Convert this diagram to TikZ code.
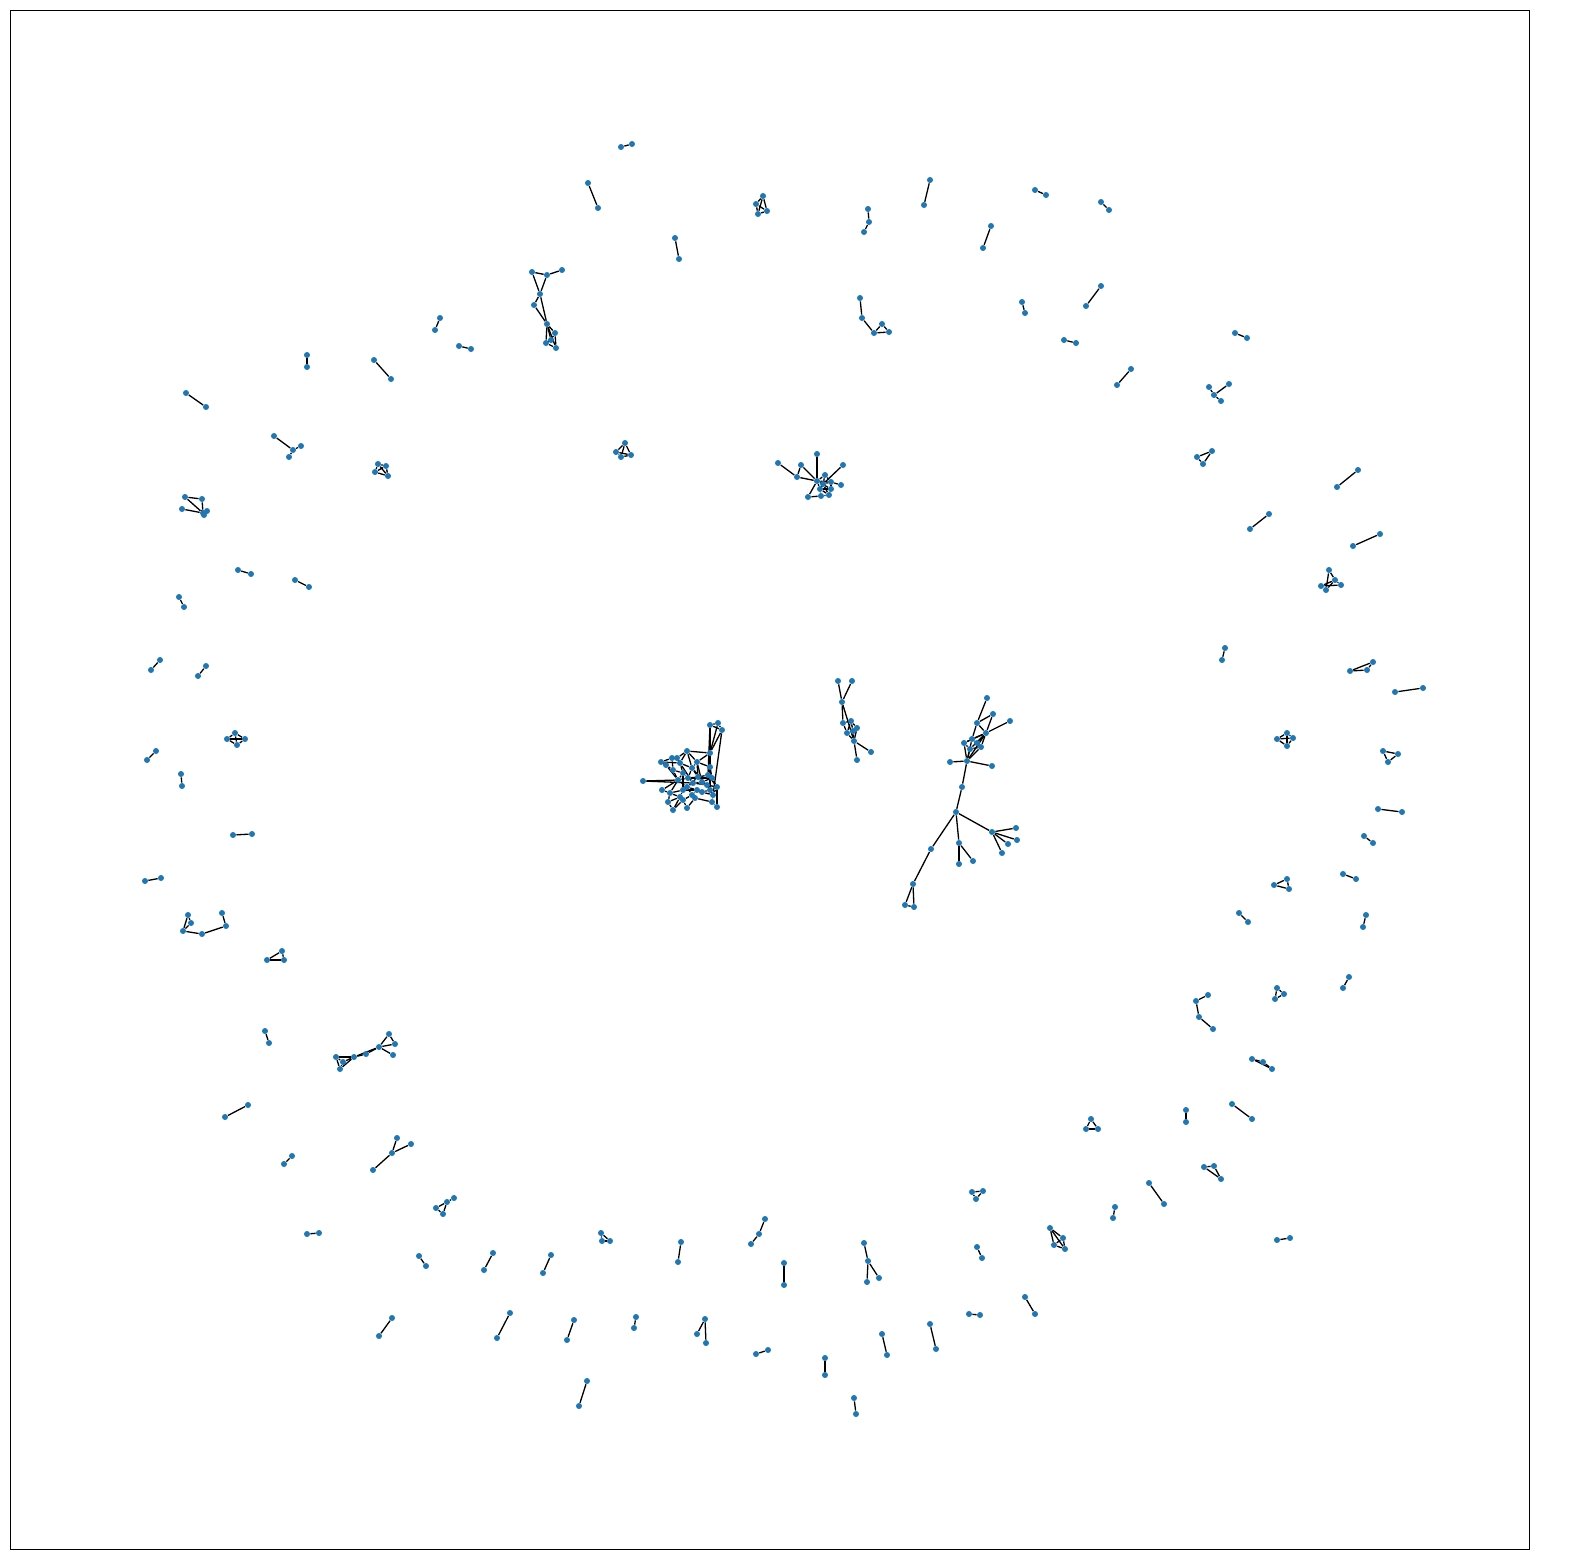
\documentclass[tikz,border=0pt]{standalone}
\definecolor{nodeblue}{RGB}{31,119,180}
\pgfdeclarelayer{background}
\pgfsetlayers{background,main}
\tikzset{v/.style={circle,fill=nodeblue,draw=none,inner sep=0pt,minimum size=3pt},
 e/.style={draw=black,line width=0.65pt}}
\begin{document}
\begin{tikzpicture}[x=0.5pt,y=-0.5pt]
\useasboundingbox (0,0) rectangle (1570,1560);
\draw[line width=0.5pt] (10,10) rectangle (1529,1549);
% nodes
\foreach \n/\x/\y in {
c1/710/725,c2/718/723,c3/722/730,c4/710/753,c5/687/751,c6/661/762,c7/672/758,c8/677/758,c9/666/765,c10/680/763,
c11/673/770,c12/697/762,c13/710/767,c14/692/768,c15/683/773,c16/643/781,c17/678/780,c18/688/778,c19/698/777,c20/702/782,
c21/708/775,c22/712/778,c23/693/783,c24/687/787,c25/707/785,c26/717/787,c27/662/790,c28/670/793,c29/683/790,c30/697/790,
c31/702/792,c32/710/790,c33/713/795,c34/680/797,c35/692/795,c36/668/802,c37/683/800,c38/695/798,c39/712/802,c40/673/810,
c41/687/808,c42/717/807,
t1/987/698,t2/993/714,t3/977/723,t4/1010/721,t5/986/733,t6/972/739,t7/977/743,t8/964/743,t9/970/749,t10/981/747,
t11/967/761,t12/950/762,t13/992/766,t14/962/787,t15/956/812,t16/992/832,t17/1016/828,t18/1017/840,t19/1008/844,t20/1002/853,
t21/959/843,t22/973/861,t23/959/864,t24/931/849,t25/913/884,t26/905/905,t27/914/907,
u1/778/463,u2/801/465,u3/817/454,u4/843/465,u5/797/477,u6/817/481,u7/825/475,u8/823/484,u9/831/482,u10/841/485,
u11/820/489,u12/831/489,u13/808/497,u14/821/496,u15/829/495,
w1/838/681,w2/852/681,w3/842/702,w4/843/723,w5/851/721,w6/847/733,w7/857/728,w8/853/731,w9/854/741,w10/871/752,w11/857/760,
p1/532/272,p2/547/275,p3/562/270,p4/540/294,p5/534/305,p6/547/324,p7/555/333,p8/551/340,p9/546/343,p10/556/348,
q1/389/1034,q2/395/1044,q3/379/1047,q4/393/1055,q5/366/1054,q6/354/1057,q7/336/1057,q8/343/1062,q9/340/1069,
r1/185/497,r2/202/499,r3/182/509,r4/203/513,r5/207/511,r6/204/515,
s1/188/915,s2/191/923,s3/183/931,s4/202/934,s5/226/926,s6/222/913,
x1/397/1138,x2/411/1144,x3/392/1153,x4/373/1170,
y1/1050/1228,y2/1063/1238,y3/1054/1245,y4/1065/1249,
z1/864/1243,z2/868/1261,z3/867/1282,z4/879/1278,
k1/1229/384,k2/1209/387,k3/1214/395,k4/1221/401,
m1/1212/451,m2/1197/457,m3/1203/464,
ga/868/209,gb/869/222,gc/864/232,
ha/860/298,hb/862/318,hc/874/333,hd/882/324,he/889/332,
na/274/436,nb/293/450,nc/301/446,nd/289/457,
aa/763/196,ab/756/204,ac/767/211,ad/758/214,
ba/625/443,bb/616/452,bc/631/455,bd/621/457,
da/378/464,db/386/466,dc/375/472,dd/388/476,
ea/235/733,eb/227/739,ec/245/739,ed/237/745,
fa/1287/733,fb/1277/739,fc/1293/738,fd/1287/746,
ia/1383/751,ib/1398/754,ic/1388/762,
ja/1287/879,jb/1274/885,jc/1289/889,
la/267/960,lb/282/951,lc/284/960,
oa/1277/988,ob/1275/999,oc/1284/994,
ra/1091/1119,rb/1086/1129,rc/1098/1129,
sa/972/1192,sb/983/1191,sc/976/1199,
ta/601/1233,tb/610/1241,tc/602/1241,
ua/1204/1167,ub/1214/1166,uc/1221/1179,
va/1252/1059,vb/1263/1062,vc/1272/1069,
wa/1208/995,wb/1196/1001,wc/1199/1017,wd/1213/1029,
xa/765/1219,xb/759/1234,xc/751/1244,
ya/705/1319,yb/697/1334,yc/706/1343,
za/454/1198,zb/447/1202,zc/436/1208,zd/443/1214,
qa/1329/570,qb/1335/580,qc/1321/586,qd/1341/585,qe/1326/590,
pa/1373/662,pb/1350/671,pc/1367/670}
  \node[v] (\n) at (\x,\y) {};
% simple pairs
\foreach \i/\xa/\ya/\xb/\yb in {
1/621/147/632/144,2/588/183/598/208,3/675/238/679/259,4/930/180/924/205,5/1035/190/1046/195,
6/1101/202/1109/210,7/991/226/983/248,8/1022/302/1025/313,9/1101/286/1086/306,10/1064/340/1076/343,
11/1131/369/1117/385,12/1235/333/1247/338,13/435/330/440/318,14/459/346/471/349,15/307/355/307/367,
16/374/360/391/379,17/186/393/206/407,18/1358/470/1337/487,19/1269/514/1250/529,20/1380/534/1353/546,
21/238/570/251/574,22/295/580/309/587,23/179/597/184/607,24/160/660/151/670,25/206/666/198/676,
26/1225/648/1222/660,27/1395/692/1423/688,28/156/751/147/760,29/181/774/182/786,30/233/835/252/834,
31/1378/809/1402/812,32/145/881/161/878,33/1364/836/1373/843,34/1343/874/1356/879,35/1239/913/1248/922,
36/1366/915/1363/927,37/1349/977/1343/988,38/265/1031/269/1043,39/248/1105/225/1117,40/1232/1104/1252/1119,
41/1186/1110/1186/1122,42/292/1156/284/1164,43/1149/1183/1164/1204,44/1115/1207/1113/1218,45/307/1234/319/1233,
46/681/1242/678/1262,47/977/1247/982/1258,48/419/1256/426/1266,49/493/1253/484/1270,50/551/1255/543/1273,
51/784/1263/784/1285,52/1277/1240/1290/1238,53/1025/1297/1035/1314,54/969/1314/980/1315,55/392/1318/379/1336,
56/510/1313/497/1338,57/574/1320/567/1340,58/636/1317/634/1328,59/930/1324/936/1349,60/882/1334/887/1355,
61/756/1354/768/1350,62/825/1358/825/1375,63/587/1381/579/1406,64/854/1398/856/1414}
{
  \node[v] (d\i-a) at (\xa,\ya) {};
  \node[v] (d\i-b) at (\xb,\yb) {};
  \begin{pgfonlayer}{background}
  \draw[e] (d\i-a) -- (d\i-b);
  \end{pgfonlayer}
}
\begin{pgfonlayer}{background}
\foreach \a/\b in {
c1/c2,c2/c3,c1/c3,c1/c4,c2/c4,c3/c4,c3/c33,c1/c21,c4/c5,c4/c13,c4/c12,c4/c21,c4/c32,c5/c8,c5/c10,c5/c12,c5/c14,
c6/c7,c6/c9,c6/c10,c7/c8,c7/c11,c8/c10,c9/c11,c9/c17,c10/c14,c10/c15,c11/c15,c11/c17,c12/c14,c12/c19,c12/c13,
c13/c21,c13/c22,c14/c18,c14/c19,c15/c17,c15/c18,c16/c23,c16/c17,c17/c18,c17/c24,c17/c28,c18/c19,c18/c23,c19/c20,
c19/c21,c20/c22,c20/c25,c20/c23,c21/c22,c22/c26,c23/c24,c23/c25,c24/c29,c24/c30,c25/c26,c25/c32,c26/c33,c26/c42,
c27/c28,c27/c17,c28/c29,c28/c34,c28/c36,c29/c30,c29/c34,c30/c31,c30/c35,c31/c32,c31/c33,c32/c33,c33/c39,c34/c37,
c34/c40,c35/c38,c35/c37,c36/c40,c37/c41,c38/c41,c38/c39,c39/c42,c10/c23,c18/c22,c19/c24,c12/c20,c14/c25,c21/c26,
c15/c29,c37/c40,c36/c34,c24/c35,
t1/t3,t3/t2,t3/t5,t2/t5,t5/t4,t3/t6,t5/t6,t5/t7,t5/t8,t5/t10,t5/t9,t6/t7,t6/t8,t8/t9,t7/t10,t10/t9,t8/t11,t6/t11,
t10/t11,t5/t11,t9/t11,t11/t12,t11/t13,t11/t14,t14/t15,t15/t16,t16/t17,t16/t18,t16/t19,t16/t20,t15/t21,t21/t22,
t21/t23,t15/t24,t24/t25,t25/t26,t25/t27,t26/t27,
u1/u5,u2/u5,u2/u6,u5/u6,u3/u6,u4/u8,u6/u7,u6/u8,u6/u9,u6/u11,u6/u13,u6/u12,u7/u8,u7/u9,u8/u9,u8/u11,u9/u10,
u9/u12,u11/u12,u11/u14,u12/u15,u14/u15,u13/u14,u8/u15,u11/u15,
w1/w3,w2/w3,w3/w4,w3/w9,w4/w5,w4/w6,w5/w7,w5/w8,w6/w9,w7/w9,w8/w9,w6/w7,w5/w6,w9/w10,w9/w11,
p1/p2,p2/p3,p1/p4,p2/p4,p4/p5,p4/p6,p5/p6,p6/p7,p6/p8,p6/p9,p6/p10,p7/p8,p8/p9,p9/p10,p7/p10,
q1/q2,q1/q3,q2/q3,q3/q4,q3/q5,q3/q6,q5/q6,q6/q7,q6/q8,q6/q9,q7/q8,q7/q9,q8/q9,
r1/r2,r1/r4,r2/r4,r3/r4,r4/r5,r4/r6,r5/r6,
s1/s2,s1/s3,s2/s3,s3/s4,s4/s5,s5/s6,
x1/x3,x2/x3,x3/x4,
y1/y2,y1/y3,y1/y4,y2/y3,y2/y4,y3/y4,
z1/z2,z2/z3,z2/z4,
k1/k3,k2/k3,k3/k4,
m1/m2,m2/m3,m1/m3,
ga/gb,gb/gc,
ha/hb,hb/hc,hc/hd,hd/he,hc/he,
na/nb,nb/nc,nb/nd,
aa/ab,aa/ac,aa/ad,ab/ac,ab/ad,ac/ad,
ba/bb,ba/bc,ba/bd,bb/bc,bb/bd,bc/bd,
da/db,da/dc,da/dd,db/dc,db/dd,dc/dd,
ea/eb,ea/ec,ea/ed,eb/ec,eb/ed,ec/ed,
fa/fb,fa/fc,fa/fd,fb/fc,fb/fd,fc/fd,
ia/ib,ib/ic,ia/ic,
ja/jb,jb/jc,ja/jc,
la/lb,lb/lc,la/lc,
oa/ob,ob/oc,oa/oc,
ra/rb,rb/rc,ra/rc,
sa/sb,sb/sc,sa/sc,
ta/tb,tb/tc,ta/tc,
ua/ub,ub/uc,ua/uc,
va/vb,vb/vc,va/vc,
wa/wb,wb/wc,wc/wd,
xa/xb,xb/xc,
ya/yb,ya/yc,
za/zb,zb/zc,zb/zd,zc/zd,
qa/qb,qb/qc,qb/qd,qc/qd,qa/qe,qb/qe,
pa/pb,pb/pc,pa/pc}
  \draw[e] (\a) -- (\b);
\end{pgfonlayer}
\end{tikzpicture}
\end{document}
